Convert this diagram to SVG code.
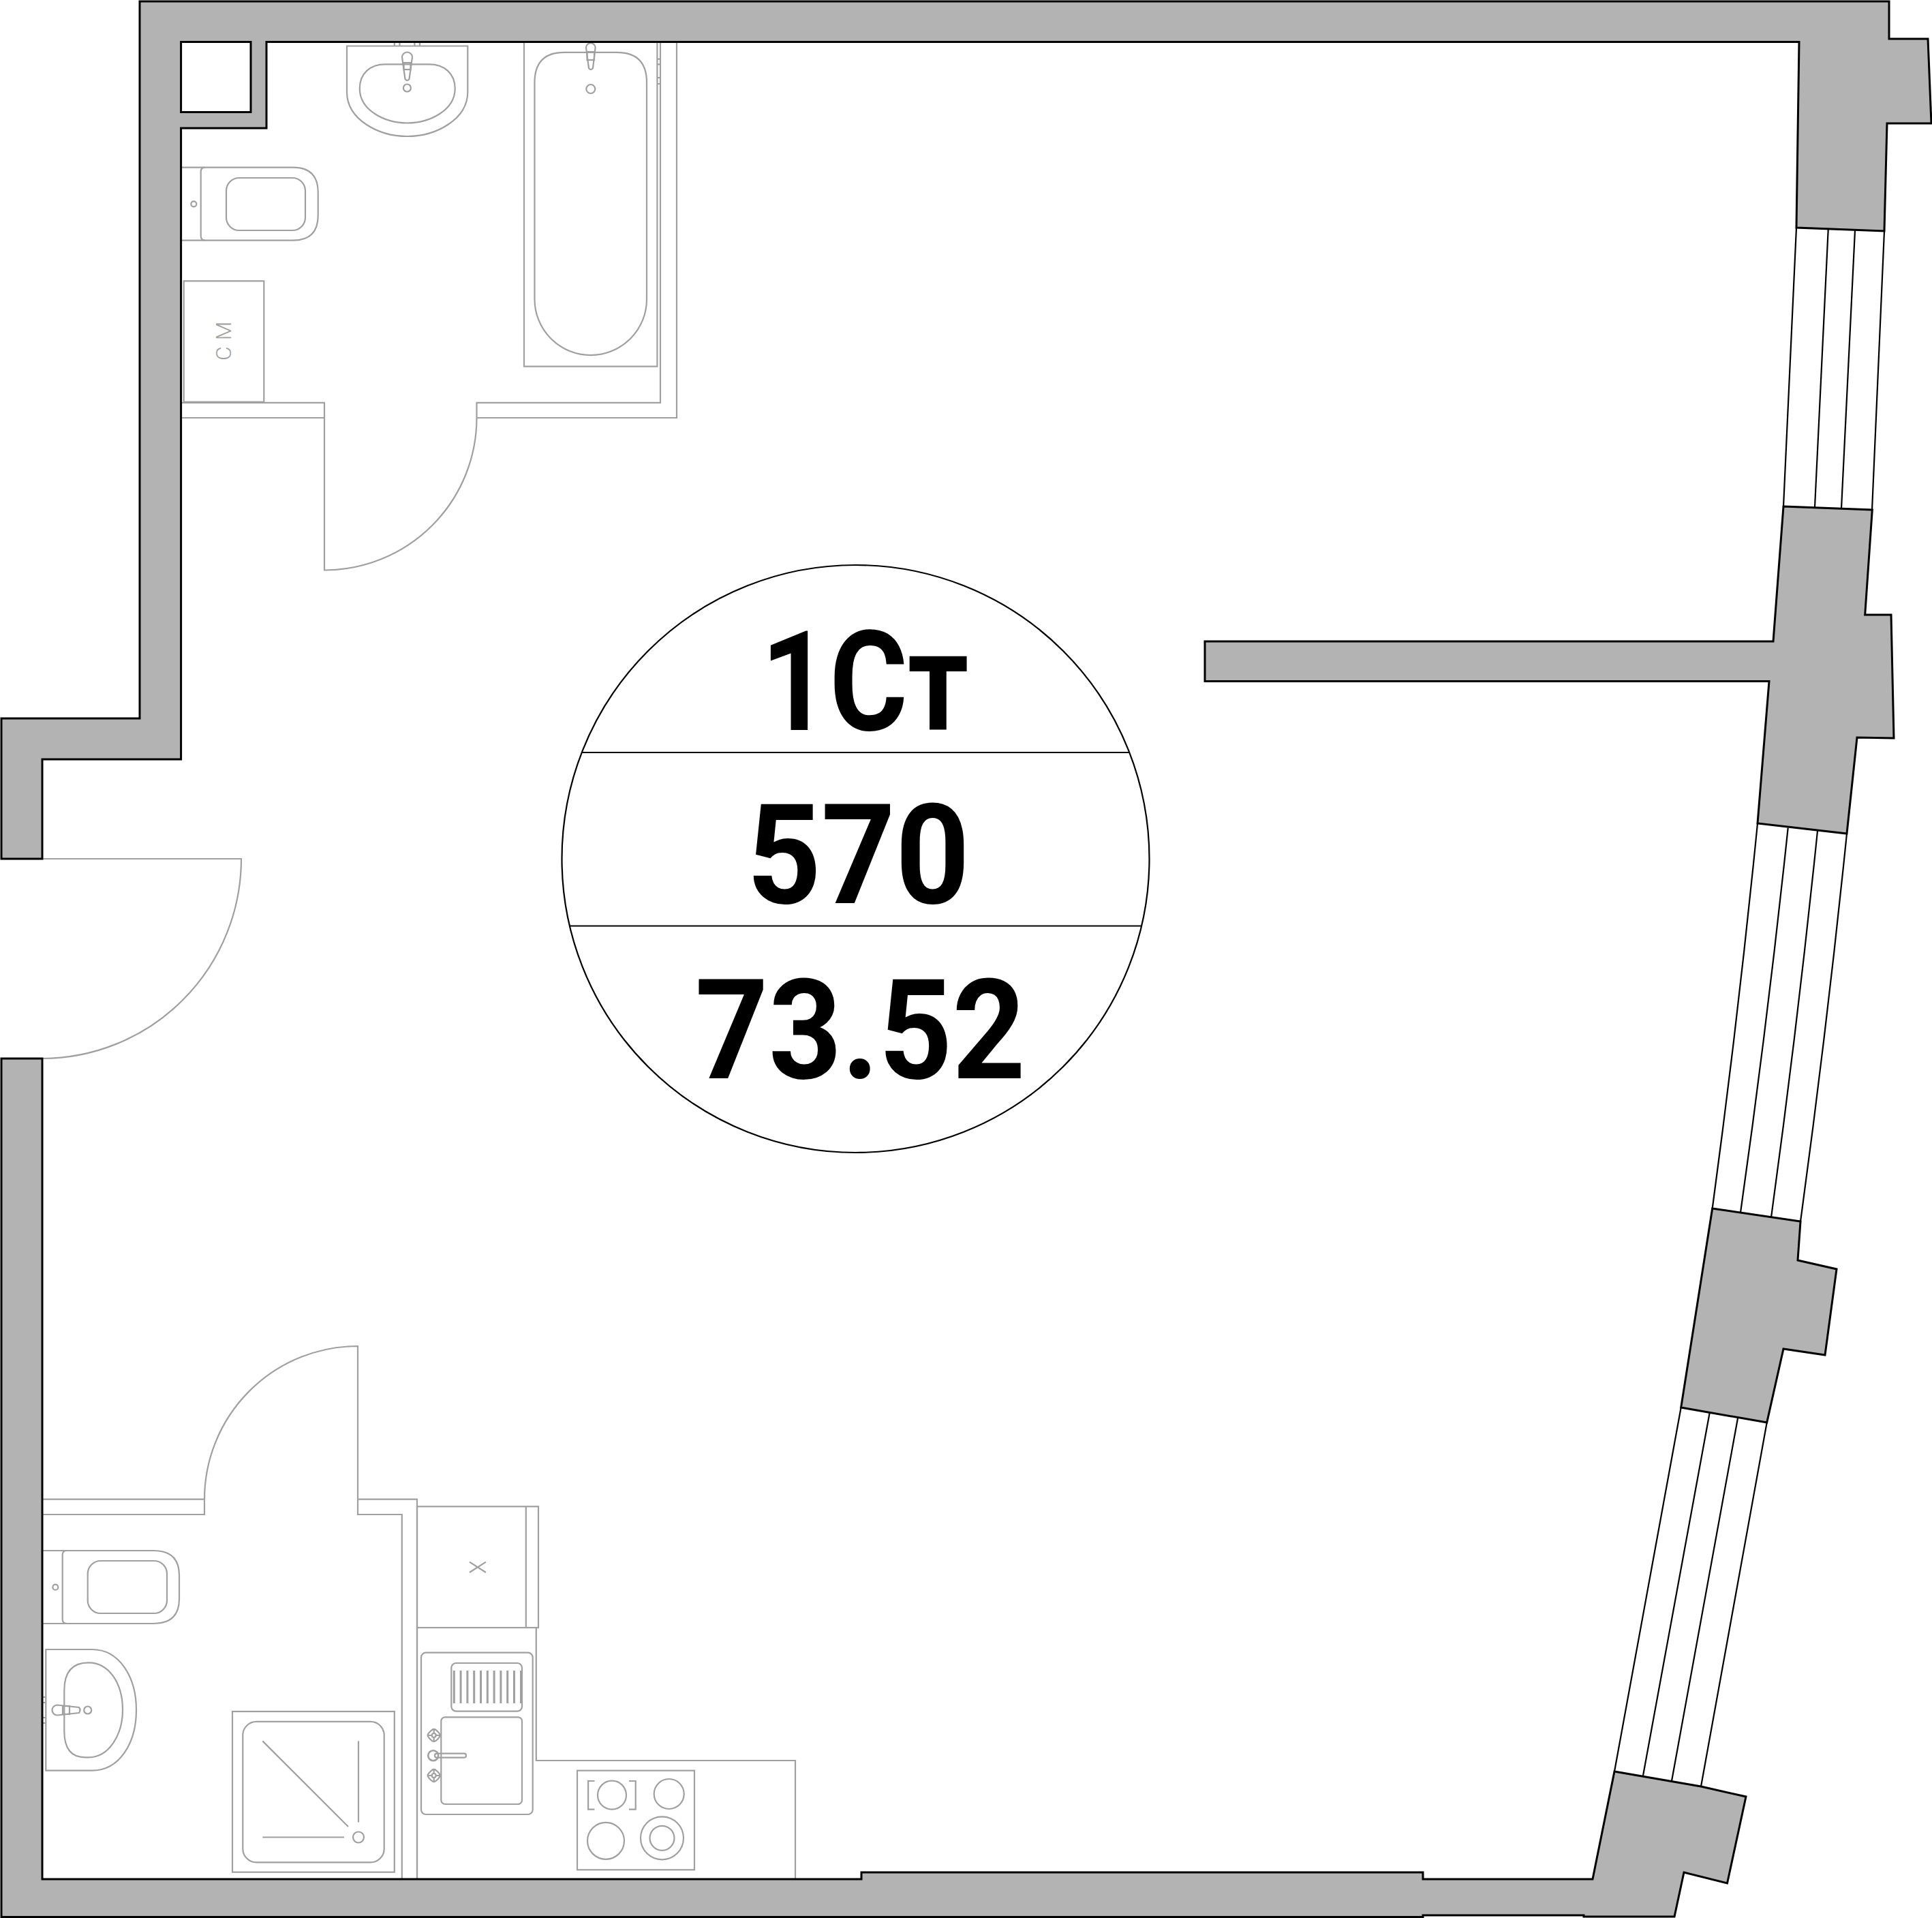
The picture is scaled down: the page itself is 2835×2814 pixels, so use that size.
<svg xmlns="http://www.w3.org/2000/svg" width="2835" height="2814" viewBox="0 0 2835 2814">
<style>
.w{fill:#b3b3b3;stroke:#000;stroke-width:3;stroke-linejoin:miter}
.k{fill:none;stroke:#000;stroke-width:2.2}
.g{fill:none;stroke:#a0a0a0;stroke-width:2.2}
.b{fill:none;stroke:#a0a0a0;stroke-width:3}
.t{font-family:Roboto,"Liberation Sans",sans-serif;font-weight:700;font-size:205px;fill:#000}
</style>
<defs>
<g id="knob">
<path d="M-4,-7Q0,-11 4,-7L7,-4Q11,0 7,4L4,7Q0,11 -4,7L-7,4Q-11,0 -7,-4Z"/>
<circle r="3"/>
<path d="M0,-9V-3M0,3V9M-9,0H-3M3,0H9"/>
</g>
</defs>
<rect width="2835" height="2814" fill="#fff"/>
<g id="windows" class="k">
<path d="M2636,334L2617,743M2682.7,337L2663,744M2722,338L2702,746M2765,339L2747,748"/>
<path d="M2579,1208Q2551,1490 2512.7,1773M2623.7,1214.6Q2594,1497 2554,1779M2667,1219Q2638,1502 2599,1786M2710,1223Q2681,1507 2642,1792"/>
<path d="M2466.7,2065L2369,2599M2508.7,2072.7L2411,2605M2550,2080.7L2453,2613M2592.7,2087L2496,2621"/>
</g>
<g id="upper-bathroom" class="g">
<path d="M265,590.8H476V836.5A223.5,223.5 0 0 0 699.5,613V590.8H969V61.5"/>
<path d="M265,613H476M699.5,613H993V61.5"/>
<g id="bath">
<path d="M769,61.5V537.6H964.4V61.5"/>
<path d="M784.5,121Q784.5,76.8 828,76.8H905Q949,76.8 949,121V439A82.2,82 0 0 1 784.5,439Z"/>
<path d="M860,70A6.8,6.8 0 0 1 873.6,70L870,100Q866.8,104 864,100Z"/>
<rect x="861.5" y="76" width="10.5" height="12"/>
<circle cx="866.8" cy="130.5" r="6.5"/>
<path d="M964.4,86.7H969M964.4,94.3H969M964.4,114H969M964.4,123H969"/>
</g>
<g id="bathroom-sink">
<path d="M509,67.5H686.3V135C686.3,175 640,200 597.6,200C555,200 509,175 509,135Z"/>
<path d="M527.8,130C527.8,108 543,94.3 565,94.3H630C652,94.3 667.7,108 667.7,130C667.7,162 630,180.5 597.6,180.5C565,180.5 527.8,162 527.8,130Z"/>
<path d="M590,84A7.5,7.5 0 0 1 605,84L600.5,116Q597.4,120 594.5,116Z"/>
<rect x="592.5" y="92" width="10" height="10"/>
<circle cx="597.4" cy="129" r="5.5"/>
<path d="M578.8,61.5V67.5M586.5,61.5V67.5M608.4,61.5V67.5M616,61.5V67.5"/>
</g>
<g id="upper-toilet">
<path d="M266,245.7H430Q466.7,245.7 466.7,282V316Q466.7,352.7 430,352.7H266"/>
<path d="M301,245.7Q294.7,245.7 294.7,252V346Q294.7,352.7 301,352.7"/>
<rect x="332" y="261" width="116" height="77" rx="19"/>
<circle cx="284.3" cy="299.3" r="4"/>
</g>
<g id="washer">
<rect x="269.7" y="412.3" width="117.6" height="177.4"/>
<text transform="translate(339.3,529) rotate(-90)" font-family="Roboto,'Liberation Sans',sans-serif" font-weight="300" font-size="32" letter-spacing="9" fill="#a0a0a0" stroke="none">СМ</text>
</g>
</g>
<g id="entrance-door" class="g">
<path d="M62,1260H354A293,293 0 0 1 62,1553"/>
</g>
<g id="lower-bathroom" class="g">
<path d="M61.5,2199.6H300V2222H61.5"/>
<path d="M300,2200A225,225 0 0 1 525,1975V2222H589.8V2757"/>
<path d="M525,2199.6H612V2757"/>
<g id="lower-toilet">
<path d="M62,2275H225Q263,2275 263,2311V2346Q263,2382 225,2382H62"/>
<path d="M98,2275Q91.7,2275 91.7,2281V2376Q91.7,2382 98,2382"/>
<rect x="128.7" y="2290" width="116.3" height="77" rx="19"/>
<circle cx="81.3" cy="2328.7" r="4"/>
</g>
<g id="lower-sink">
<path d="M67.3,2420H135C175,2420 200,2460 200,2508.7C200,2558 175,2597.7 135,2597.7H67.3Z"/>
<path d="M94.3,2480Q94.3,2439.3 130,2439.3C160,2439.3 180,2470 180,2508.7C180,2545 160,2578.3 130,2578.3H125Q94.3,2578.3 94.3,2540Z"/>
<path d="M84,2501.5L116,2505Q119,2509 116,2513L84,2516.5A7.5,7.5 0 0 1 84,2501.5Z"/>
<rect x="92" y="2503" width="10" height="12"/>
<circle cx="128.7" cy="2509" r="5.5"/>
<path d="M62,2490H67.3M62,2498H67.3M62,2520H67.3M62,2528H67.3"/>
</g>
<g id="shower">
<rect x="341" y="2511" width="237.8" height="235.7"/>
<rect x="356.3" y="2525.8" width="207.4" height="206.6" rx="20"/>
<path d="M385.3,2554.4L511,2680M526,2554.4V2673.4M385.3,2695.5H505"/>
<circle cx="526" cy="2695.5" r="8"/>
</g>
</g>
<g id="kitchen" class="g">
<g id="fridge">
<rect x="612" y="2210.3" width="178" height="177.7"/>
<path d="M771.8,2210.3V2388M689,2291.6L712.9,2307M689,2307L712.9,2291.6"/>
</g>
<path id="counter" d="M612,2388V2757M786.8,2388V2583H1167V2757"/>
<g id="kitchen-sink">
<rect x="618" y="2424.7" width="163.7" height="237.3" rx="7"/>
<rect x="662.3" y="2440" width="103.7" height="70.7" rx="7"/>
<rect x="647.3" y="2519.3" width="118.7" height="127.7" rx="6"/>
<path class="b" d="M666.3,2451V2499M676.1,2451V2499M685.9,2451V2499M695.7,2451V2499M705.5,2451V2499M715.3,2451V2499M725.1,2451V2499M734.9,2451V2499M744.7,2451V2499M754.5,2451V2499M764.5,2451V2499"/>
<circle cx="635.7" cy="2575.7" r="7.5" stroke-width="2.6"/>
<rect x="638" y="2572.7" width="46" height="6" rx="3"/>
<use href="#knob" x="636.7" y="2546"/>
<use href="#knob" x="636.7" y="2605"/>
</g>
<g id="hob">
<rect x="847" y="2597.7" width="172" height="145.6"/>
<circle cx="898" cy="2633.7" r="21"/>
<circle cx="981.7" cy="2632" r="22"/>
<circle cx="889" cy="2700.8" r="27"/>
<circle cx="971.5" cy="2696.8" r="31.5"/>
<circle cx="971.5" cy="2696.8" r="18"/>
<path d="M872.5,2613H863.1V2654.7H872.5M923,2613H932.7V2654.7H923"/>
</g>
</g>
<g id="walls">
<path class="w" fill-rule="evenodd" d="M205,2H2772V57H2829L2834,181H2769L2765,339L2636,334L2640,61.5H391V188H265.6V1114H62V1260H2V1054H205ZM265.6,61.5V164.6H368V61.5Z"/>
<path class="w" d="M2617,743L2747.3,748L2736.7,902H2775L2779,1083L2725,1082L2710,1223L2579,1208L2596,999.5H1768V941H2602Z"/>
<path class="w" d="M2512.7,1773L2642,1792L2638,1849L2695,1862L2678,1988L2617,1979L2592.7,2087L2466.7,2065Z"/>
<path class="w" d="M2,1553H62V2757H1264V2747H2088V2757H2337L2369,2599L2496,2621L2562,2636L2534.5,2763L2471,2747L2457,2812H2324V2810H2088V2812.5H2Z"/>
</g>
<g id="label">
<circle class="k" cx="1255.5" cy="1260" r="431" fill="none"/>
<path class="k" d="M853,1104H1657.6M835.6,1358.5H1675"/>
<text class="t" x="1116.5" y="1071.4" textLength="305" lengthAdjust="spacingAndGlyphs">1Ст</text>
<text class="t" x="1096" y="1325" textLength="327" lengthAdjust="spacingAndGlyphs">570</text>
<text class="t" x="1020" y="1582" textLength="485" lengthAdjust="spacingAndGlyphs">73.52</text>
</g>
</svg>
